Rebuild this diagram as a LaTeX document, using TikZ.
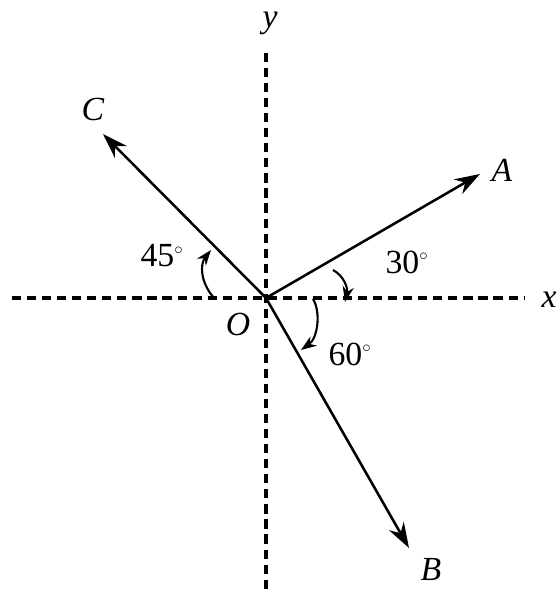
\documentclass[tikz,border=0pt]{standalone}
\usepackage{fontspec}
\setmainfont{Liberation Serif}
\usepackage{tikz}
\usetikzlibrary{arrows.meta, positioning}

\begin{document}
\begin{tikzpicture}[
    x=0.025cm, y=0.025cm,
    font=\fontsize{24}{28}\selectfont,
    axis line/.style={dashed, line width=2.3pt, dash pattern=on 6.5pt off 4.2pt},
    vec arrow/.style={-{Stealth[length=18pt,width=12pt]}, line width=1.8pt},
    angle arc/.style={-{Stealth[length=11pt,width=8pt]}, line width=1.5pt},
    lbl/.style={inner sep=0pt, text=black}
]
\useasboundingbox (-266,-293) rectangle (292,298);

% axes
\coordinate (O) at (0,0);
\coordinate (xl) at (-254,0);
\coordinate (xr) at (259,0);
\coordinate (yt) at (0,245);
\coordinate (yb) at (0,-300);
\draw[axis line] (xl) -- (xr);
\draw[axis line] (yt) -- (yb);
\node[lbl] (xlab) at (283,-2) {\textit{x}};
\node[lbl] (ylab) at (4,275) {\textit{y}};
\node[lbl] (Olab) at (-28,-26) {\textit{O}};

% vectors
\coordinate (tipA) at (214,124);
\coordinate (tipB) at (143,-250);
\coordinate (tipC) at (-163,164);
\draw[vec arrow] (O) -- (tipA);
\draw[vec arrow] (O) -- (tipB);
\draw[vec arrow] (O) -- (tipC);
\node[lbl] (A) at (236,128) {\textit{A}};
\node[lbl] (B) at (165,-271) {\textit{B}};
\node[lbl] (C) at (-173,189) {\textit{C}};

% angles
\draw[angle arc] (-52,0) .. controls (-66,16) and (-66,34) .. (-55,48);
\draw[angle arc] (67,28) .. controls (78,22) and (82,10) .. (79,-4);
\draw[angle arc] (47,-1) .. controls (55,-14) and (52,-40) .. (35,-52);
\node[lbl] (a45) at (-104,42) {45$^{\scriptscriptstyle\circ}$};
\node[lbl] (a30) at (141,36) {30$^{\scriptscriptstyle\circ}$};
\node[lbl] (a60) at (84,-56) {60$^{\scriptscriptstyle\circ}$};

\end{tikzpicture}
\end{document}
